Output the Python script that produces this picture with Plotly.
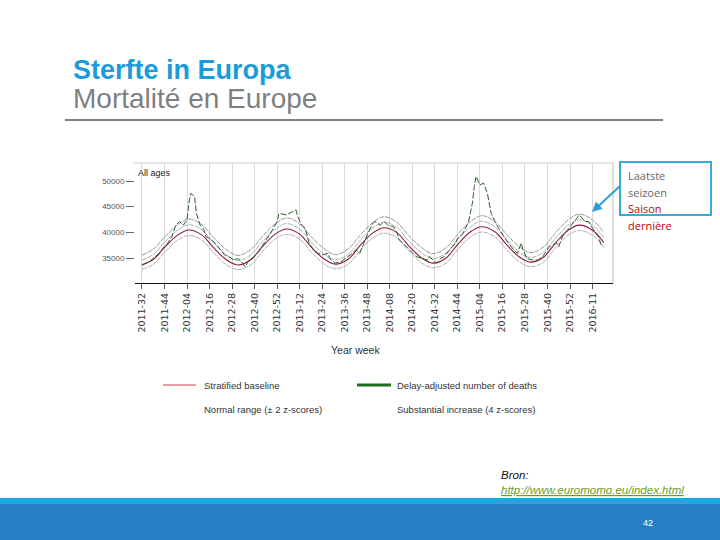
import plotly.graph_objects as go

# ---------------- data ----------------
tick_weeks = [0, 12, 24, 36, 48, 60, 72, 84, 96, 108, 120, 132, 144, 156, 168, 180, 192, 204, 216, 228, 240]
tick_labels = ["2011-32", "2011-44", "2012-04", "2012-16", "2012-28", "2012-40", "2012-52",
               "2013-12", "2013-24", "2013-36", "2013-48", "2014-08", "2014-20", "2014-32",
               "2014-44", "2015-04", "2015-16", "2015-28", "2015-40", "2015-52", "2016-11"]

base_weeks = [0, 6, 12, 19, 25, 32, 38, 45, 51, 58, 64, 71, 77, 84, 90, 97, 103, 110, 116, 123,
              129, 136, 142, 149, 155, 162, 168, 175, 181, 188, 194, 201, 207, 214, 220, 227, 233, 240, 246]
baseline = [33700, 34700, 37050, 39450, 40450, 39450, 37050, 34650, 33650, 34650, 37150, 39650, 40650,
            39650, 37200, 34800, 33800, 34800, 37350, 39900, 40900, 39900, 37400, 35000, 34000, 35000,
            37550, 40100, 41100, 40100, 37700, 35200, 34200, 35200, 37800, 40400, 41400, 40400, 38000]
lower_2z = [32800, 33725, 36075, 38475, 39400, 38475, 36075, 33675, 32750, 33675, 36175, 38675, 39600,
            38675, 36225, 33825, 32900, 33825, 36375, 38925, 39850, 38925, 36425, 34025, 33100, 34025,
            36575, 39125, 40050, 39125, 36725, 34225, 33300, 34225, 36825, 39425, 40350, 39425, 37025]
upper_2z = [34600, 35675, 38025, 40425, 41500, 40425, 38025, 35625, 34550, 35625, 38125, 40625, 41700,
            40625, 38175, 35775, 34700, 35775, 38325, 40875, 41950, 40875, 38375, 35975, 34900, 35975,
            38525, 41075, 42150, 41075, 38675, 36175, 35100, 36175, 38775, 41375, 42450, 41375, 38975]
upper_4z = [35550, 36700, 39050, 41450, 42600, 41450, 39050, 36650, 35500, 36650, 39150, 41650, 42800,
            41650, 39200, 36800, 35650, 36800, 39350, 41900, 43050, 41900, 39400, 37000, 35850, 37000,
            39550, 42100, 43250, 42100, 39700, 37200, 36050, 37200, 39800, 42400, 43550, 42400, 40000]

death_weeks = [0, 4, 10, 11, 13, 16, 18, 20, 22, 24, 25, 26, 28, 29, 31, 33, 34, 36, 39, 41, 44, 46, 49,
               51, 53, 55, 57, 60, 63, 66, 68, 72, 73, 77, 80, 82, 83, 85, 87, 89, 92, 96, 99, 100, 103,
               106, 111, 114, 116, 118, 120, 123, 124, 127, 129, 131, 134, 136, 137, 139, 141, 144, 146,
               149, 152, 153, 155, 157, 159, 161, 164, 167, 168, 171, 174, 176, 177, 178, 180, 182, 184,
               186, 188, 190, 194, 198, 200, 202, 203, 205, 208, 211, 214, 217, 221, 222, 224, 228, 231,
               233, 236, 238, 240, 243, 245]
deaths = [33600, 34300, 36200, 36900, 37500, 39200, 41400, 42100, 41400, 42400, 45700, 47600, 47000,
          43700, 41400, 40500, 39200, 38800, 37900, 36900, 35600, 35300, 34600, 34900, 34300, 33300,
          34600, 35300, 36600, 38500, 39500, 42100, 43700, 43400, 44000, 44400, 43100, 41400, 40800,
          37900, 36200, 35600, 35900, 34900, 34000, 34300, 35600, 36600, 35900, 37900, 39500, 41800,
          42100, 41400, 42100, 41400, 41100, 39800, 38500, 37900, 37200, 36200, 35300, 34900, 34600,
          35300, 34600, 34000, 34900, 35300, 36600, 37900, 38800, 39800, 42100, 45700, 48900, 50900,
          49200, 49600, 47600, 43700, 42100, 40800, 38500, 36600, 35900, 37900, 36600, 34900, 34600,
          34600, 35600, 37200, 37900, 37200, 39200, 41100, 42400, 43400, 42100, 42100, 40800, 39200, 37200]

y_ticks = [35000, 40000, 45000, 50000]

# ---------------- geometry helpers (pixel -> paper) ----------------
PL, PR, PT, PB = 135, 613, 163, 283
def px(x):
    return (x - PL) / (PR - PL)
def py(y):
    return (PB - y) / (PB - PT)

fig = go.Figure()

band_grey = "#a6a6a6"
fig.add_trace(go.Scatter(x=base_weeks, y=upper_4z, mode="lines", line=dict(color="#8c8c8c", width=0.9, shape="spline", dash="5px,1px"), hoverinfo="skip"))
fig.add_trace(go.Scatter(x=base_weeks, y=upper_2z, mode="lines", line=dict(color=band_grey, width=0.9, shape="spline", dash="5px,1px"), hoverinfo="skip"))
fig.add_trace(go.Scatter(x=base_weeks, y=lower_2z, mode="lines", line=dict(color=band_grey, width=0.9, shape="spline", dash="5px,1px"), hoverinfo="skip"))
fig.add_trace(go.Scatter(x=base_weeks, y=baseline, mode="lines", line=dict(color="#8e1b3b", width=1.1, shape="spline"), hoverinfo="skip"))
fig.add_trace(go.Scatter(x=death_weeks, y=deaths, mode="lines", line=dict(color="#2b5e2b", width=1.0, dash="6px,2px"), hoverinfo="skip"))

fig.update_layout(
    width=720, height=540,
    margin=dict(l=PL, r=720 - PR, t=PT, b=540 - PB, pad=0),
    paper_bgcolor="white", plot_bgcolor="white",
    showlegend=False,
    font=dict(family="Liberation Sans", color="#333"),
)
fig.update_xaxes(
    range=[-3.7, 250.9], tickmode="array", tickvals=tick_weeks, ticktext=tick_labels,
    tickangle=-90, tickfont=dict(family="DejaVu Sans", size=9.5, color="#333"),
    showgrid=True, gridcolor="#dadada", gridwidth=1,
    showline=True, linecolor="#111", linewidth=1.2,
    ticks="outside", ticklen=5, tickcolor="#555", zeroline=False,
)
fig.update_yaxes(
    range=[30130, 53506], tickmode="array", tickvals=y_ticks, ticktext=[str(v) for v in y_ticks],
    tickfont=dict(family="Liberation Sans", size=8, color="#555"),
    showgrid=False, showline=False, zeroline=False,
    ticks="outside", ticklen=8, tickcolor="#666",
)

shapes = []
# plot border (top, right)
shapes.append(dict(type="line", xref="paper", yref="paper", x0=px(133), x1=px(PR), y0=1, y1=1, line=dict(color="#cfcfcf", width=1)))
shapes.append(dict(type="line", xref="paper", yref="paper", x0=1, x1=1, y0=0, y1=1, line=dict(color="#bdbdbd", width=1)))
# title underline
shapes.append(dict(type="line", xref="paper", yref="paper", x0=px(65), x1=px(663), y0=py(120), y1=py(120), line=dict(color="#808080", width=2)))
# legend line samples
shapes.append(dict(type="line", xref="paper", yref="paper", x0=px(163), x1=px(196), y0=py(385), y1=py(385), line=dict(color="#c8384f", width=1)))
shapes.append(dict(type="line", xref="paper", yref="paper", x0=px(357), x1=px(391), y0=py(385), y1=py(385), line=dict(color="#1f6b1f", width=3)))
# callout box
shapes.append(dict(type="rect", xref="paper", yref="paper", x0=px(620), x1=px(711), y0=py(215), y1=py(162), line=dict(color="#3aa8d8", width=2)))
# bottom bars
shapes.append(dict(type="rect", xref="paper", yref="paper", x0=px(0), x1=px(720), y0=py(504), y1=py(498), line=dict(width=0), fillcolor="#1ca9e1"))
shapes.append(dict(type="rect", xref="paper", yref="paper", x0=px(0), x1=px(720), y0=py(541), y1=py(504), line=dict(width=0), fillcolor="#2581c4"))

ann = []
def text(x, y, s, size, color="#333", family="Liberation Sans", xanchor="left"):
    ann.append(dict(xref="paper", yref="paper", x=px(x), y=py(y), text=s, showarrow=False,
                    xanchor=xanchor, yanchor="middle", font=dict(size=size, color=color, family=family)))

text(71, 70, "<b>Sterfte in Europa</b>", 27, "#1b9bd7")
text(71, 99, "Mortalité en Europe", 28, "#7f7f7f")
text(136, 173, "All ages", 9, "#222")
text(355, 350, "Year week", 10.5, "#333", xanchor="center")
text(202, 385, "Stratified baseline", 9.5, "#333")
text(395, 385, "Delay-adjusted number of deaths", 9.5, "#333")
text(202, 409, "Normal range (± 2 z-scores)", 9.5, "#333")
text(395, 409, "Substantial increase (4 z-scores)", 9.5, "#333")
text(626, 175, "Laatste", 11, "#666", family="Open Sans")
text(626, 192, "seizoen", 11, "#666", family="Open Sans")
text(626, 208, "Saison", 11, "#c00000", family="Open Sans")
text(626, 225, "dernière", 11, "#c00000", family="Open Sans")
text(499, 475, "<i>Bron:</i>", 11.5, "#111")
text(499, 490, "<i><u>http://www.euromomo.eu/index.html</u></i>", 11.5, "#6b9a2b")
text(648, 523, "42", 9, "white", xanchor="center")
# arrow
ann.append(dict(xref="paper", yref="paper", x=px(592), y=py(212), ax=29, ay=-27, text="", showarrow=True,
                arrowhead=2, arrowsize=1, arrowwidth=2, arrowcolor="#2e9fd4"))

fig.update_layout(shapes=shapes, annotations=ann)
fig.write_html("out.html", config={"displayModeBar": False},
               post_script="document.body.style.margin='0px';")
